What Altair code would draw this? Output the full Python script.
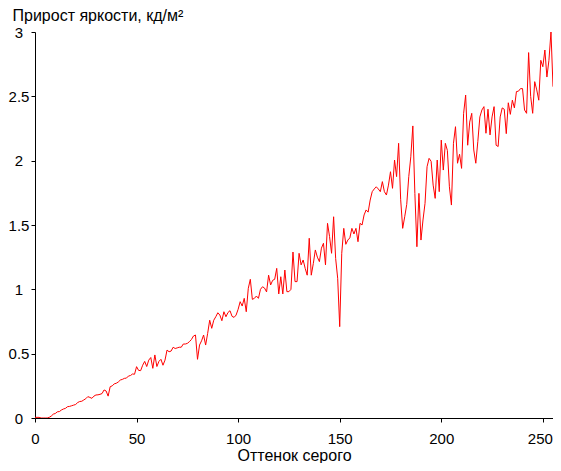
import altair as alt
import pandas as pd

gray = list(range(256))
increment = [
    0.005, 0.005, 0.005, 0, 0, 0, 0, 0.005, 0.015, 0.03,
    0.035, 0.048, 0.05, 0.062, 0.07, 0.075, 0.088, 0.09, 0.095, 0.10,
    0.105, 0.12, 0.128, 0.13, 0.14, 0.15, 0.166, 0.16, 0.153, 0.17,
    0.179, 0.18, 0.184, 0.19, 0.218, 0.21, 0.17, 0.243, 0.25, 0.265,
    0.27, 0.28, 0.295, 0.30, 0.308, 0.31, 0.326, 0.33, 0.342, 0.34,
    0.399, 0.37, 0.368, 0.41, 0.44, 0.40, 0.45, 0.47, 0.386, 0.49,
    0.40, 0.44, 0.456, 0.41, 0.45, 0.528, 0.515, 0.52, 0.55, 0.54,
    0.545, 0.55, 0.55, 0.575, 0.575, 0.58, 0.593, 0.61, 0.637, 0.645,
    0.456, 0.567, 0.60, 0.645, 0.567, 0.658, 0.76, 0.697, 0.76, 0.787,
    0.818, 0.80, 0.756, 0.826, 0.787, 0.82, 0.834, 0.79, 0.782, 0.80,
    0.845, 0.904, 0.87, 0.93, 0.826, 1.008, 1.078, 0.922, 0.93, 0.948,
    0.93, 1.0, 1.02, 1.01, 0.98, 1.11, 1.034, 1.07, 1.078, 1.163,
    0.964, 1.098, 0.964, 1.15, 0.982, 0.982, 1.0, 1.29, 1.06, 1.06,
    1.28, 1.19, 1.228, 1.163, 1.11, 1.397, 1.11, 1.2, 1.306, 1.25,
    1.215, 1.32, 1.358, 1.19, 1.513, 1.41, 1.28, 1.564, 1.24, 1.086,
    0.71, 1.28, 1.474, 1.35, 1.383, 1.40, 1.474, 1.43, 1.474, 1.37,
    1.513, 1.50, 1.578, 1.617, 1.60, 1.694, 1.759, 1.78, 1.797, 1.78,
    1.759, 1.837, 1.759, 1.733, 1.81, 1.914, 1.785, 2.005, 1.876, 2.135,
    1.70, 1.474, 1.564, 1.66, 1.876, 2.03, 2.27, 1.746, 1.331, 1.746,
    1.383, 1.539, 1.668, 1.953, 2.018, 1.995, 1.81, 1.707, 2.005, 1.759,
    2.16, 1.927, 2.135, 2.08, 1.797, 1.655, 2.135, 2.264, 1.98, 2.05,
    1.94, 2.368, 2.51, 2.12, 2.30, 2.368, 2.083, 1.98, 2.15, 2.34,
    2.394, 2.42, 2.213, 2.40, 2.20, 2.34, 2.42, 2.12, 2.11, 2.34,
    2.41, 2.40, 2.21, 2.45, 2.36, 2.47, 2.41, 2.537, 2.54, 2.56,
    2.56, 2.394, 2.368, 2.84, 2.50, 2.368, 2.614, 2.55, 2.47, 2.78,
    2.73, 2.86, 2.65, 2.78, 3.0, 2.575,
]
x_ticks = [0, 50, 100, 150, 200, 250]
y_ticks = [0, 0.5, 1, 1.5, 2, 2.5, 3]

df = pd.DataFrame({"gray": gray, "inc": increment})

FONT = "Liberation Sans"

chart = alt.Chart(df).mark_line(color="#ff0000", strokeWidth=1, clip=True).encode(
    x=alt.X("gray:Q",
            scale=alt.Scale(domain=[0, 255], nice=False, zero=False),
            axis=alt.Axis(values=x_ticks, title="Оттенок серого", grid=False,
                          tickSize=4, labelPadding=9,
                          labelOffset={"condition": {"test": "datum.value == 250", "value": -3}, "value": 0},
                          titleY=42, titleBaseline="alphabetic",
                          labelFlush=False)),
    y=alt.Y("inc:Q",
            scale=alt.Scale(domain=[0, 3], nice=False),
            axis=alt.Axis(values=y_ticks, format="~g", title="Прирост яркости, кд/м²",
                          grid=False, tickSize=4, labelPadding=12.5,
                          labelAlign="center",
                          titleAngle=0, titleX=-23, titleY=-12,
                          titleAlign="left", titleBaseline="alphabetic")),
).properties(
    width=518, height=386,
    autosize=alt.AutoSizeParams(type="none"),
    padding={"left": 27, "top": 24, "right": 0, "bottom": 45},
    background="white",
).configure_view(
    stroke=None
).configure_axis(
    domainColor="black", tickColor="black", labelColor="black", titleColor="black",
    labelFont=FONT, titleFont=FONT, labelFontSize=15, titleFontSize=16,
    titleFontWeight="normal", domainWidth=1, tickWidth=1,
)

chart.save("out.html", embed_options={"renderer": "svg", "actions": False})
